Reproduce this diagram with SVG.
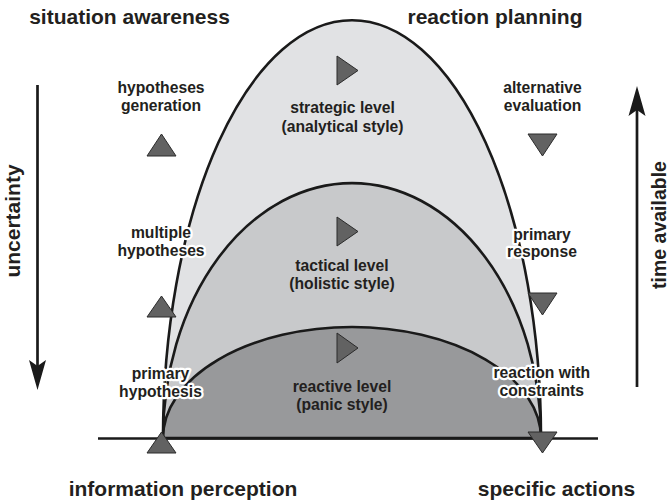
<svg xmlns="http://www.w3.org/2000/svg" width="672" height="502" viewBox="0 0 672 502">
<defs>
<style>
text{font-family:"Liberation Sans",Arial,Helvetica,sans-serif;font-weight:bold;fill:#231f20;text-anchor:middle}
.big{font-size:21px}
.side{font-size:19.5px}
.sm{font-size:15.7px}
.halo{paint-order:stroke;stroke:#fff;stroke-width:4.5px;stroke-linejoin:round}
.arch{stroke:#1a1a1a;stroke-width:2.6;stroke-linejoin:round}
.tri{fill:#626262;stroke:#2b2b2b;stroke-width:1}
.ax{stroke:#1a1a1a;stroke-width:2.7;fill:none}
.head{fill:#1a1a1a}
</style>
</defs>
<rect width="672" height="502" fill="#fff"/>
<g id="strategic-level">
<path class="arch" d="M163,438 A189,418 0 0 1 541,438 Z" fill="#e1e2e4"/>
</g>
<g id="tactical-level">
<path class="arch" d="M163,438 A189,255 0 0 1 541,438 Z" fill="#c8c9cb"/>
</g>
<g id="reactive-level">
<path class="arch" d="M163,438 A189,111 0 0 1 541,438 Z" fill="#98999b"/>
</g>
<g id="connectors">
<line x1="98" y1="438.5" x2="598" y2="438.5" stroke="#1a1a1a" stroke-width="2.4"/>
<line class="ax" x1="37.5" y1="85" x2="37.5" y2="368"/>
<path class="head" d="M29,360 L37.5,390 L46,360 L37.5,366 Z"/>
<line class="ax" x1="637" y1="387" x2="637" y2="108"/>
<path class="head" d="M628.5,116 L637,86 L645.5,116 L637,110 Z"/>
</g>
<g id="triangles">
<polygon class="tri" points="161.5,134 147,156 176,156"/>
<polygon class="tri" points="161.5,296 147,317 176,317"/>
<polygon class="tri" points="161.5,432 147,453 176,453"/>
<polygon class="tri" points="528,134 557,134 542.5,156"/>
<polygon class="tri" points="528,293 557,293 542.5,315"/>
<polygon class="tri" points="528,432 557,432 542.5,453"/>
<polygon class="tri" points="337,56 337,85 358,70.5"/>
<polygon class="tri" points="337,217 337,246 358,231.5"/>
<polygon class="tri" points="337,333 337,363 358,348"/>
</g>
<g id="titles">
<text class="big" x="129.5" y="24">situation awareness</text>
<text class="big" x="495" y="23.5">reaction planning</text>
<text class="big" x="183" y="496">information perception</text>
<text class="big" x="556.5" y="496">specific actions</text>
<text class="big" transform="translate(20,221) rotate(-90)">uncertainty</text>
<text class="side" transform="translate(666,225) rotate(-90)">time available</text>
</g>
<g id="level-labels">
<text class="sm" x="342.5" y="113.3">strategic level</text>
<text class="sm" x="342.5" y="131.5">(analytical style)</text>
<text class="sm" x="342" y="271">tactical level</text>
<text class="sm" x="342" y="289">(holistic style)</text>
<text class="sm" x="342" y="391.7">reactive level</text>
<text class="sm" x="342" y="410">(panic style)</text>
</g>
<g id="left-labels">
<text class="sm" x="161" y="93.3">hypotheses</text>
<text class="sm" x="161" y="111">generation</text>
<text class="sm halo" x="161" y="238.3">multiple</text>
<text class="sm halo" x="161" y="256">hypotheses</text>
<text class="sm halo" x="160.5" y="379.3">primary</text>
<text class="sm halo" x="160.5" y="396.7">hypothesis</text>
</g>
<g id="right-labels">
<text class="sm" x="542.5" y="93.3">alternative</text>
<text class="sm" x="542.5" y="110.5">evaluation</text>
<text class="sm halo" x="542" y="240">primary</text>
<text class="sm halo" x="542" y="257.3">response</text>
<text class="sm halo" x="541.8" y="378.3">reaction with</text>
<text class="sm halo" x="541.8" y="396">constraints</text>
</g>
</svg>
